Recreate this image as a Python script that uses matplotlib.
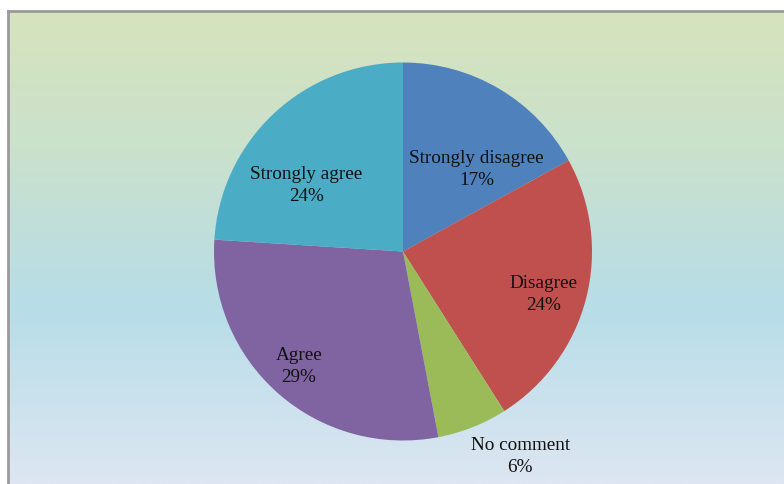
import matplotlib.pyplot as plt
import numpy as np
from matplotlib.colors import LinearSegmentedColormap

# Pie data (clockwise from 12 o'clock)
labels = ['Strongly disagree', 'Disagree', 'No comment', 'Agree', 'Strongly agree']
values = [17, 24, 6, 29, 24]
colors = ['#4F81BD', '#C0504D', '#9BBB59', '#8064A2', '#4BACC6']

# label placement in pie units (radius = 1)
label_pos = [(0.39, 0.44), (0.745, -0.22), (0.62, -1.08), (-0.55, -0.605), (-0.51, 0.355)]

W, H = 784, 485
fig = plt.figure(figsize=(W / 100, H / 100), dpi=100)
fig.patch.set_facecolor('white')

# gradient background panel
bg = fig.add_axes([8 / W, 0, 1 - 8 / W, (H - 12) / H])
grad = LinearSegmentedColormap.from_list('bg', [
    (0.0, (215/255, 227/255, 189/255)),
    (0.29, (202/255, 225/255, 204/255)),
    (0.63, (183/255, 221/255, 232/255)),
    (1.0, (221/255, 230/255, 242/255)),
])
bg.imshow(np.linspace(0, 1, 256).reshape(-1, 1), aspect='auto', cmap=grad,
          extent=[0, 1, 0, 1], origin='upper')
bg.set_xlim(0, 1)
bg.set_ylim(0, 1)
bg.set_xticks([])
bg.set_yticks([])
for s in ['right', 'bottom']:
    bg.spines[s].set_visible(False)
for s in ['left', 'top']:
    bg.spines[s].set_color('#9a9a9a')
    bg.spines[s].set_linewidth(2)

# pie axes
cx, cy, r = 403, 252.5, 189
ax = fig.add_axes([(cx - r) / W, (H - cy - r) / H, 2 * r / W, 2 * r / H])
ax.pie(values, colors=colors, startangle=90, counterclock=False, radius=1)
ax.set_xlim(-1, 1)
ax.set_ylim(-1, 1)
ax.set_aspect('equal')
ax.axis('off')

for lab, v, (x, y) in zip(labels, values, label_pos):
    ax.text(x, y, f'{lab}\n{v}%', ha='center', va='center', fontsize=13.8,
            family='Liberation Serif', color='#111111', linespacing=1.38,
            clip_on=False)

plt.savefig('out.png', dpi=100)
